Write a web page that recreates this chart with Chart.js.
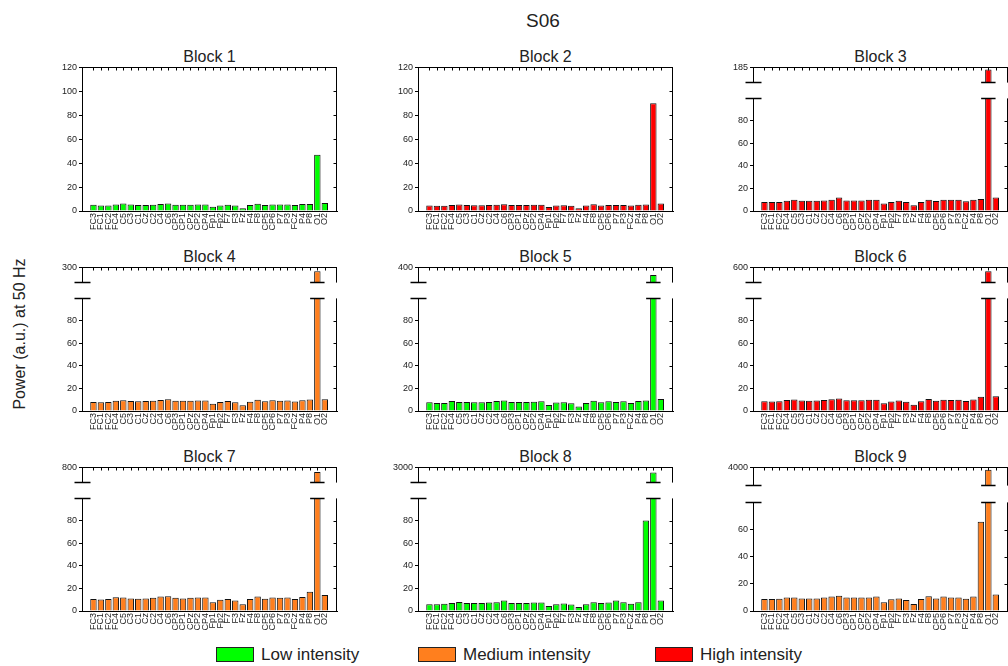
<!DOCTYPE html>
<html>
<head>
<meta charset="utf-8">
<script src="https://cdn.jsdelivr.net/npm/chart.js"></script>
<style>
  body { margin: 0; background: #fff; font-family: "Liberation Sans", Arial, sans-serif; }
  #fig { position: relative; width: 1008px; height: 666px; overflow: hidden; background: #fff; }
  #fig canvas { position: absolute; }
  .txt { position: absolute; color: #222; white-space: nowrap; line-height: 1; }
  .box { position: absolute; width: 36px; height: 13px; border: 1px solid #222; }
</style>
</head>
<body>
<div id="fig"></div>
<script>
// channel names on the x axis
const channels = ['FC3','FC1','FC2','FC4','C5','C3','C1','Cz','C2','C4','C6','CP3','CP1','CPz','CP2','CP4',
                  'Fp1','Fp2','F7','F3','Fz','F4','F8','CP5','CP6','P7','P3','FCz','P4','P8','O1','O2'];

// power at 50 Hz per block
const block1 = [5.2,4.7,4.7,5.5,6.3,5.5,5.0,5.0,5.3,5.8,6.3,5.3,5.2,5.3,5.5,5.5,3.6,4.7,5.3,4.7,2.2,5.0,6.1,5.0,5.5,5.5,5.5,5.0,5.8,5.8,47,6.6];
const block2 = [4.5,4.3,4.4,5.0,5.4,5.0,4.8,4.9,5.0,5.3,5.7,5.1,5.0,5.0,5.2,5.2,3.4,4.5,4.9,4.4,2.4,4.7,5.6,4.7,5.1,5.0,5.1,4.7,5.3,5.5,90,6.3];
const block3 = [8.0,8.0,8.0,9.2,10.0,9.2,9.2,9.2,9.4,10.0,12.0,9.4,9.4,9.4,10.0,10.0,6.7,8.0,9.2,8.0,5.0,8.0,10.0,8.9,10.0,10.0,10.0,8.6,10.0,10.6,180,12.0];
const block4 = [8.0,7.8,8.0,9.0,9.5,8.8,8.7,8.8,9.2,9.8,10.5,9.1,9.0,9.1,9.3,9.4,6.5,8.0,8.8,7.8,5.0,8.2,10.0,8.6,9.5,9.2,9.4,8.4,9.6,10.2,285,10.5];
const block5 = [7.8,7.2,7.2,8.9,8.0,8.0,7.8,7.8,8.0,8.9,9.4,8.0,8.0,8.0,8.3,8.6,5.3,7.5,7.8,6.9,3.9,7.2,9.2,7.8,8.6,8.0,8.6,7.2,8.9,9.4,365,10.6];
const block6 = [8.6,8.4,8.6,9.8,10.2,9.4,9.2,9.3,9.8,10.4,11.2,9.6,9.6,9.6,9.9,10.0,6.8,8.5,9.4,8.3,5.5,8.7,10.6,9.0,10.0,9.8,10.0,8.9,10.3,12.6,575,13.0];
const block7 = [10.6,10.3,10.6,12.2,12.0,11.1,10.8,11.1,11.7,12.8,13.0,11.7,11.1,11.7,12.0,12.0,7.8,10.0,10.6,9.4,6.1,10.6,12.8,10.8,12.0,11.7,12.0,10.6,12.5,17.2,755,14.2];
const block8 = [6.1,6.1,6.4,7.2,8.0,7.0,7.0,7.0,7.5,7.8,9.4,7.2,7.2,7.2,7.5,7.5,4.4,6.1,6.7,5.8,3.6,6.1,7.8,7.0,7.5,9.4,7.8,6.4,7.8,80.3,2800,9.4];
const block9 = [8.8,8.8,9.1,10.0,10.0,9.3,9.3,9.3,10.0,10.7,11.2,10.0,10.0,10.0,10.0,10.7,6.5,8.6,9.3,8.1,5.1,8.8,10.9,9.3,10.7,10.0,10.0,9.1,10.7,65.8,3900,12.1];
const blocks = [block1, block2, block3, block4, block5, block6, block7, block8, block9];

const blockNames = ['Block 1','Block 2','Block 3','Block 4','Block 5','Block 6','Block 7','Block 8','Block 9'];
const blockLevel = ['low','high','high','medium','low','high','medium','low','medium'];
const levelNames = ['Low intensity','Medium intensity','High intensity'];
const levelKeys = ['low','medium','high'];
const colors = { low: '#00ff00', medium: '#ff7f1e', high: '#ff0000' };

// axis limits: lower segment top, and upper segment (broken axis) range
const lowerMax = [120,120,100,100,100,100,100,100,80];
const upperMin = [null,null,150,240,330,500,650,2400,3200];
const upperMax = [null,null,185,300,400,600,800,3000,4000];

const fig = document.getElementById('fig');
Chart.defaults.font.family = '"Liberation Sans", Arial, sans-serif';
Chart.defaults.color = '#222';

const W = 255, H = 144;
const colLeft = [82, 418, 753];
const rowTop = [67, 267, 467];
const YW = 34, PR = 5, XH = 30;

function ln(ctx, x1, y1, x2, y2) {
  ctx.beginPath(); ctx.moveTo(x1, y1); ctx.lineTo(x2, y2); ctx.stroke();
}

// right/top frame with small inward ticks, plus broken-axis marks
const framePlugin = {
  id: 'frame',
  afterDatasetsDraw(chart, args, o) {
    const { ctx, chartArea: a, scales: { x, y } } = chart;
    const L = Math.round(a.left) + 0.5, R = Math.round(a.right) - 0.5;
    const T = Math.round(a.top) + 0.5, B = Math.round(a.bottom) - 0.5;
    ctx.save();
    ctx.strokeStyle = '#000'; ctx.lineWidth = 1;
    ln(ctx, R, a.top, R, a.bottom);
    if (o.top) {
      ln(ctx, a.left, T, a.right, T);
      channels.forEach((c, i) => {
        const px = Math.round(x.getPixelForValue(i)) + 0.5;
        ln(ctx, px, T, px, T + 3);
      });
    }
    y.ticks.forEach(t => {
      const py = Math.round(y.getPixelForValue(t.value)) + 0.5;
      ln(ctx, R - 3, py, R, py);
    });
    if (o.brk) {
      const py = o.brk === 'top' ? T : B;
      ctx.lineWidth = 1.5;
      ln(ctx, L - 8, py, L + 8, py);
      const vals = chart.data.datasets[0].data;
      chart.getDatasetMeta(0).data.forEach((bar, i) => {
        const v = vals[i].y;
        if ((o.brk === 'top' && v > y.max) || (o.brk === 'bottom' && v > y.min)) {
          const hw = bar.width / 2 + 4;
          ln(ctx, bar.x - hw, py, bar.x + hw, py);
        }
      });
    }
    ctx.restore();
  }
};

function panel(p) {
  const cw = YW + W + PR;
  const ch = p.padTop + p.height + (p.showX ? XH : p.padBottom);
  const c = document.createElement('canvas');
  c.width = cw; c.height = ch;
  c.style.left = (p.left - YW) + 'px';
  c.style.top = (p.top - p.padTop) + 'px';
  c.style.width = cw + 'px'; c.style.height = ch + 'px';
  fig.appendChild(c);
  new Chart(c, {
    type: 'bar',
    data: {
      datasets: [{
        data: p.values.map((v, i) => ({ x: i, y: v })),
        backgroundColor: p.color,
        borderColor: '#111',
        borderWidth: 1,
        barPercentage: 0.86,
        categoryPercentage: 1
      }]
    },
    options: {
      responsive: false,
      animation: false,
      devicePixelRatio: 1,
      layout: { padding: { top: p.padTop, right: PR, left: 0, bottom: p.showX ? 0 : p.padBottom } },
      plugins: { legend: { display: false }, tooltip: { enabled: false }, frame: p.frame },
      scales: {
        x: {
          type: 'linear', min: -1, max: 32.1,
          display: p.showX,
          afterBuildTicks: s => { s.ticks = channels.map((n, i) => ({ value: i })); },
          afterFit: s => { s.height = p.showX ? XH : 0; },
          ticks: {
            autoSkip: false, minRotation: 90, maxRotation: 90, padding: 2,
            font: { size: 9 }, color: '#222',
            callback: v => channels[v]
          },
          grid: { display: true, drawOnChartArea: false, drawTicks: false, color: '#000' },
          border: { color: '#000' }
        },
        y: {
          min: p.min, max: p.max,
          afterBuildTicks: s => { s.ticks = p.ticks.map(v => ({ value: v })); },
          afterFit: s => { s.width = YW; },
          ticks: { font: { size: 9 }, color: '#222', padding: 2, callback: v => String(v) },
          grid: { drawOnChartArea: false, color: '#000', tickLength: 3 },
          border: { color: '#000' }
        }
      }
    },
    plugins: [framePlugin]
  });
}

function text(str, left, top, size, extra) {
  const d = document.createElement('div');
  d.className = 'txt';
  d.textContent = str;
  d.style.left = left + 'px';
  d.style.top = top + 'px';
  d.style.fontSize = size + 'px';
  if (extra) Object.assign(d.style, extra);
  fig.appendChild(d);
  return d;
}

blocks.forEach((vals, b) => {
  const L = colLeft[b % 3], T = rowTop[Math.floor(b / 3)];
  const color = colors[blockLevel[b]];
  text(blockNames[b], L + W / 2, T - 18, 16, { transform: 'translateX(-50%)' });
  const lowTicks = [];
  for (let v = 0; v < lowerMax[b] || (upperMax[b] === null && v <= lowerMax[b]); v += 20) lowTicks.push(v);
  if (upperMax[b] === null) {
    panel({ left: L, top: T, height: H, values: vals, color, min: 0, max: lowerMax[b], ticks: lowTicks,
            showX: true, padTop: 7, padBottom: 0, frame: { top: true } });
  } else {
    const upH = b === 8 ? 24 : 21;
    const lowOff = b === 8 ? 30 : 26;
    panel({ left: L, top: T, height: upH, values: vals, color, min: upperMin[b], max: upperMax[b], ticks: [upperMax[b]],
            showX: false, padTop: 7, padBottom: 2, frame: { top: true, brk: 'bottom' } });
    panel({ left: L, top: T + lowOff, height: H - lowOff, values: vals, color, min: 0, max: lowerMax[b], ticks: lowTicks,
            showX: true, padTop: 2, padBottom: 0, frame: { brk: 'top' } });
  }
});

// figure title and shared y label
text('S06', 543, 11, 19, { transform: 'translateX(-50%)' });
text('Power (a.u.) at 50 Hz', 20, 334, 16, { transform: 'translate(-50%,-50%) rotate(-90deg)' });

// legend
const legendX = [216, 418, 655];
levelKeys.forEach((k, i) => {
  const bx = document.createElement('div');
  bx.className = 'box';
  bx.style.left = legendX[i] + 'px';
  bx.style.top = '647px';
  bx.style.background = colors[k];
  fig.appendChild(bx);
  text(levelNames[i], legendX[i] + 45, 646, 17);
});
</script>
</body>
</html>
